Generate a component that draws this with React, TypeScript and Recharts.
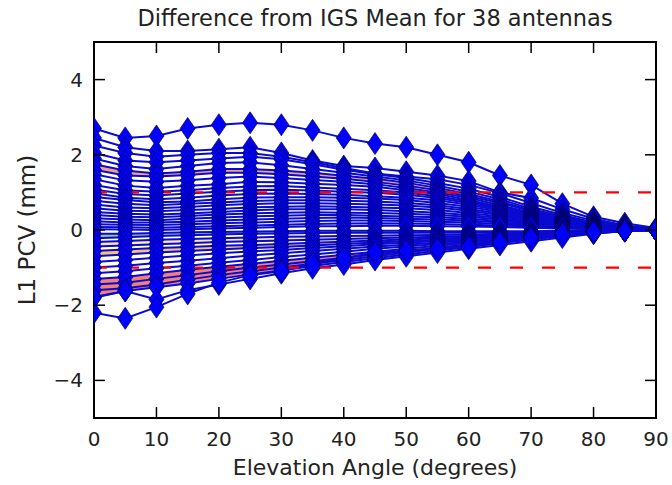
import React from "react";
import {
  ComposedChart,
  Line,
  Area,
  XAxis,
  YAxis,
  ReferenceLine,
  ReferenceArea,
} from "recharts";

// elevation angles (degrees) sampled every 5 deg
const elevation = [0, 5, 10, 15, 20, 25, 30, 35, 40, 45, 50, 55, 60, 65, 70, 75, 80, 85, 90];

const xTicks = [0, 10, 20, 30, 40, 50, 60, 70, 80, 90];
const yTicks = [-4, -2, 0, 2, 4];
const limit = [-1, 1];

// L1 PCV difference from IGS mean (mm), one array per antenna
const ant01 = [2.7, 2.45, 2.5, 2.7, 2.8, 2.85, 2.8, 2.65, 2.45, 2.3, 2.2, 2.0, 1.8, 1.45, 1.2, 0.7, 0.35, 0.18, 0.05];
const ant02 = [2.45, 2.2, 2.1, 2.1, 2.15, 2.2, 2.05, 1.85, 1.7, 1.65, 1.55, 1.45, 1.3, 1.0, 0.85, 0.55, 0.3, 0.12, 0.03];
const ant03 = [2.25, 2.05, 1.95, 2.0, 2.05, 2.05, 1.95, 1.8, 1.65, 1.5, 1.42, 1.35, 1.2, 0.98, 0.72, 0.45, 0.25, 0.1, 0.02];
const ant04 = [2.05, 1.85, 1.8, 1.85, 1.9, 1.95, 1.88, 1.75, 1.6, 1.48, 1.38, 1.25, 1.1, 0.88, 0.62, 0.4, 0.2, 0.08, 0.02];
const ant05 = [1.9, 1.7, 1.62, 1.7, 1.78, 1.8, 1.72, 1.62, 1.52, 1.42, 1.32, 1.18, 1.02, 0.82, 0.56, 0.36, 0.18, 0.08, 0.01];
const ant06 = [1.75, 1.58, 1.5, 1.55, 1.62, 1.62, 1.58, 1.52, 1.44, 1.36, 1.26, 1.12, 0.96, 0.76, 0.52, 0.32, 0.16, 0.06, 0.01];
const ant07 = [1.6, 1.45, 1.42, 1.46, 1.52, 1.52, 1.48, 1.42, 1.36, 1.28, 1.18, 1.06, 0.9, 0.72, 0.5, 0.3, 0.15, 0.05, 0];
const ant08 = [1.48, 1.32, 1.28, 1.32, 1.38, 1.42, 1.38, 1.33, 1.28, 1.22, 1.12, 1.0, 0.86, 0.66, 0.46, 0.28, 0.14, 0.05, 0];
const ant09 = [1.35, 1.18, 1.12, 1.18, 1.22, 1.28, 1.27, 1.23, 1.2, 1.15, 1.06, 0.96, 0.8, 0.62, 0.43, 0.25, 0.12, 0.04, 0];
const ant10 = [1.2, 1.06, 1.02, 1.06, 1.12, 1.16, 1.17, 1.13, 1.1, 1.06, 1.0, 0.9, 0.76, 0.58, 0.4, 0.24, 0.12, 0.04, 0];
const ant11 = [1.08, 0.96, 0.92, 0.97, 1.02, 1.06, 1.07, 1.05, 1.02, 0.99, 0.94, 0.85, 0.72, 0.55, 0.38, 0.22, 0.1, 0.04, 0];
const ant12 = [0.98, 0.86, 0.82, 0.86, 0.92, 0.96, 0.97, 0.96, 0.94, 0.9, 0.86, 0.79, 0.67, 0.52, 0.35, 0.2, 0.1, 0.03, 0];
const ant13 = [0.88, 0.8, 0.74, 0.76, 0.82, 0.86, 0.87, 0.87, 0.86, 0.84, 0.8, 0.72, 0.62, 0.48, 0.32, 0.18, 0.09, 0.03, 0];
const ant14 = [0.78, 0.7, 0.66, 0.7, 0.73, 0.77, 0.79, 0.79, 0.78, 0.76, 0.72, 0.66, 0.56, 0.44, 0.3, 0.17, 0.08, 0.03, 0];
const ant15 = [0.68, 0.6, 0.58, 0.61, 0.66, 0.69, 0.71, 0.71, 0.7, 0.68, 0.65, 0.6, 0.51, 0.4, 0.28, 0.16, 0.08, 0.02, 0];
const ant16 = [0.58, 0.51, 0.5, 0.53, 0.56, 0.6, 0.62, 0.63, 0.62, 0.6, 0.58, 0.53, 0.45, 0.36, 0.25, 0.14, 0.07, 0.02, 0];
const ant17 = [0.48, 0.43, 0.41, 0.44, 0.48, 0.52, 0.55, 0.55, 0.55, 0.53, 0.5, 0.46, 0.4, 0.32, 0.22, 0.13, 0.06, 0.02, 0];
const ant18 = [0.4, 0.35, 0.34, 0.37, 0.41, 0.44, 0.46, 0.47, 0.46, 0.45, 0.43, 0.4, 0.35, 0.28, 0.2, 0.12, 0.06, 0.02, 0];
const ant19 = [0.31, 0.28, 0.26, 0.3, 0.33, 0.36, 0.38, 0.4, 0.4, 0.38, 0.36, 0.34, 0.3, 0.24, 0.18, 0.1, 0.05, 0.02, 0];
const ant20 = [0.23, 0.2, 0.2, 0.22, 0.25, 0.28, 0.3, 0.32, 0.33, 0.32, 0.3, 0.28, 0.25, 0.2, 0.15, 0.09, 0.04, 0.01, 0];
const ant21 = [0.15, 0.14, 0.13, 0.15, 0.18, 0.2, 0.22, 0.24, 0.25, 0.25, 0.24, 0.22, 0.2, 0.16, 0.12, 0.07, 0.04, 0.01, 0];
const ant22 = [0.08, 0.07, 0.06, 0.08, 0.1, 0.12, 0.14, 0.16, 0.17, 0.18, 0.17, 0.16, 0.14, 0.12, 0.09, 0.05, 0.03, 0.01, 0];
const ant23 = [0.02, 0.01, 0.0, 0.02, 0.04, 0.06, 0.08, 0.1, 0.1, 0.11, 0.11, 0.1, 0.09, 0.08, 0.06, 0.04, 0.02, 0.0, 0];
const ant24 = [-0.1, -0.1, -0.08, -0.06, -0.05, -0.04, -0.03, -0.02, -0.02, -0.02, -0.02, -0.03, -0.03, -0.03, -0.03, -0.02, -0.01, 0, 0];
const ant25 = [-0.22, -0.19, -0.16, -0.14, -0.12, -0.1, -0.09, -0.08, -0.07, -0.07, -0.07, -0.07, -0.07, -0.06, -0.05, -0.03, -0.02, -0.01, 0];
const ant26 = [-0.32, -0.29, -0.26, -0.24, -0.22, -0.2, -0.18, -0.17, -0.16, -0.15, -0.14, -0.13, -0.12, -0.1, -0.08, -0.05, -0.03, -0.01, 0];
const ant27 = [-0.44, -0.41, -0.38, -0.35, -0.32, -0.3, -0.28, -0.26, -0.24, -0.22, -0.2, -0.18, -0.16, -0.13, -0.1, -0.07, -0.04, -0.01, 0];
const ant28 = [-0.56, -0.52, -0.48, -0.45, -0.42, -0.4, -0.37, -0.34, -0.31, -0.28, -0.25, -0.22, -0.19, -0.16, -0.12, -0.08, -0.04, -0.02, 0];
const ant29 = [-0.7, -0.65, -0.6, -0.56, -0.52, -0.48, -0.45, -0.41, -0.37, -0.33, -0.3, -0.26, -0.22, -0.18, -0.14, -0.09, -0.05, -0.02, 0];
const ant30 = [-0.85, -0.8, -0.74, -0.68, -0.62, -0.57, -0.53, -0.48, -0.43, -0.38, -0.34, -0.29, -0.25, -0.2, -0.15, -0.1, -0.05, -0.02, 0];
const ant31 = [-1.0, -0.95, -0.88, -0.82, -0.75, -0.68, -0.62, -0.56, -0.5, -0.44, -0.39, -0.33, -0.28, -0.22, -0.16, -0.11, -0.06, -0.02, 0];
const ant32 = [-1.15, -1.1, -1.02, -0.95, -0.87, -0.8, -0.72, -0.65, -0.58, -0.5, -0.44, -0.37, -0.31, -0.24, -0.18, -0.12, -0.06, -0.02, 0];
const ant33 = [-1.3, -1.25, -1.15, -1.06, -0.98, -0.9, -0.82, -0.74, -0.66, -0.58, -0.5, -0.42, -0.34, -0.27, -0.2, -0.13, -0.07, -0.02, 0];
const ant34 = [-1.45, -1.4, -1.3, -1.2, -1.1, -1.0, -0.92, -0.83, -0.74, -0.65, -0.56, -0.47, -0.38, -0.3, -0.22, -0.14, -0.07, -0.02, 0];
const ant35 = [-1.6, -1.55, -1.45, -1.32, -1.2, -1.1, -1.0, -0.9, -0.8, -0.7, -0.6, -0.5, -0.41, -0.32, -0.23, -0.15, -0.08, -0.03, 0];
const ant36 = [-1.78, -1.62, -1.52, -1.42, -1.3, -1.18, -1.08, -0.96, -0.85, -0.75, -0.65, -0.55, -0.45, -0.35, -0.25, -0.16, -0.08, -0.03, 0];
const ant37 = [-1.8, -1.62, -1.85, -1.6, -1.45, -1.3, -1.15, -1.02, -0.92, -0.8, -0.7, -0.6, -0.5, -0.4, -0.3, -0.2, -0.1, -0.03, 0];
const ant38 = [-2.2, -2.35, -2.05, -1.7, -1.4, -1.2, -1.1, -0.9, -0.75, -0.6, -0.55, -0.5, -0.45, -0.32, -0.2, -0.1, -0.05, -0.02, 0];

const antennas = [
  ant01, ant02, ant03, ant04, ant05, ant06, ant07, ant08, ant09, ant10,
  ant11, ant12, ant13, ant14, ant15, ant16, ant17, ant18, ant19, ant20,
  ant21, ant22, ant23, ant24, ant25, ant26, ant27, ant28, ant29, ant30,
  ant31, ant32, ant33, ant34, ant35, ant36, ant37, ant38,
];

// shaded spreads between pairs of antennas (index pairs into antennas)
const bands: { lo: number; hi: number; color: string }[] = [
  { lo: 6, hi: 5, color: "#f4a080" },
  { lo: 35, hi: 32, color: "#f08078" },
  { lo: 28, hi: 27, color: "#f6c078" },
  { lo: 26, hi: 25, color: "#fae4a8" },
  { lo: 24, hi: 23, color: "#90c890" },
];

const W = 672;
const H = 485;
const PLOT_TOP = 42;
const PLOT_LEFT = 94;
const PLOT_RIGHT = 656;
const PLOT_BOTTOM = 418;
const FONT = "'DejaVu Sans', sans-serif";

const data = elevation.map((e, i) => {
  const row: Record<string, number> = { elev: e };
  antennas.forEach((a, k) => {
    row[`a${k}`] = a[i];
  });
  return row;
});

function Diamond(props: any) {
  const { cx, cy } = props;
  if (cx == null || cy == null) return <g />;
  return (
    <path
      d={`M${cx},${cy - 11}L${cx + 7.5},${cy}L${cx},${cy + 11}L${cx - 7.5},${cy}Z`}
      fill="#0000ff"
      stroke="#000050"
      strokeWidth={0.7}
    />
  );
}

function XTick(props: any) {
  const { x, payload } = props;
  return (
    <g>
      <line x1={x} x2={x} y1={PLOT_BOTTOM} y2={PLOT_BOTTOM - 11} stroke="#000" strokeWidth={1.5} />
      <line x1={x} x2={x} y1={PLOT_TOP} y2={PLOT_TOP + 11} stroke="#000" strokeWidth={1.5} />
      <text x={x} y={446} textAnchor="middle" fontSize={20} fill="#222" fontFamily={FONT}>
        {payload.value}
      </text>
    </g>
  );
}

function YTick(props: any) {
  const { y, payload } = props;
  const v = payload.value;
  return (
    <g>
      <line x1={PLOT_LEFT} x2={PLOT_LEFT + 11} y1={y} y2={y} stroke="#000" strokeWidth={1.5} />
      <line x1={PLOT_RIGHT} x2={PLOT_RIGHT - 11} y1={y} y2={y} stroke="#000" strokeWidth={1.5} />
      <text x={83} y={y + 7} textAnchor="end" fontSize={20} fill="#222" fontFamily={FONT}>
        {v < 0 ? `\u2212${-v}` : `${v}`}
      </text>
    </g>
  );
}

export default function App() {
  return (
    <div style={{ position: "absolute", left: 0, top: 0, width: W, height: H, background: "#fff", fontFamily: FONT }}>
      <div
        style={{
          position: "absolute",
          left: 0,
          top: 5,
          width: (PLOT_LEFT + PLOT_RIGHT),
          textAlign: "center",
          fontSize: 22.5,
          lineHeight: "26px",
          color: "#222",
          whiteSpace: "nowrap",
        }}
      >
        Difference from IGS Mean for 38 antennas
      </div>
      <div
        style={{
          position: "absolute",
          left: 0,
          top: 455,
          width: (PLOT_LEFT + PLOT_RIGHT),
          textAlign: "center",
          fontSize: 22,
          lineHeight: "26px",
          color: "#222",
          whiteSpace: "nowrap",
        }}
      >
        Elevation Angle (degrees)
      </div>
      <div
        style={{
          position: "absolute",
          left: 27 - 100,
          top: 230 - 13,
          width: 200,
          textAlign: "center",
          fontSize: 23,
          lineHeight: "26px",
          color: "#222",
          whiteSpace: "nowrap",
          transform: "rotate(-90deg)",
        }}
      >
        L1 PCV (mm)
      </div>
      <ComposedChart
        width={W}
        height={H}
        data={data}
        margin={{ top: PLOT_TOP, right: W - PLOT_RIGHT, bottom: 0, left: 0 }}
      >
        <XAxis
          dataKey="elev"
          type="number"
          domain={[0, 90]}
          ticks={xTicks}
          allowDataOverflow
          height={H - PLOT_BOTTOM}
          axisLine={false}
          tickLine={false}
          tick={XTick}
        />
        <YAxis
          type="number"
          domain={[-5, 5]}
          ticks={yTicks}
          allowDataOverflow
          width={PLOT_LEFT}
          axisLine={false}
          tickLine={false}
          tick={YTick}
        />
        {bands.map((b, k) => (
          <Area
            key={`band-${k}`}
            dataKey={(d: any) => [d[`a${b.lo}`], d[`a${b.hi}`]]}
            stroke="none"
            fill={b.color}
            fillOpacity={1}
            isAnimationActive={false}
            activeDot={false}
          />
        ))}
        {antennas.map((_, k) => (
          <Line
            key={`ant-${k}`}
            dataKey={`a${k}`}
            stroke="#0a0ad0"
            strokeWidth={2}
            dot={Diamond}
            activeDot={false}
            isAnimationActive={false}
          />
        ))}
        {limit.map((v) => (
          <ReferenceLine key={`lim-${v}`} y={v} stroke="#ff0000" strokeWidth={2.2} strokeDasharray="13 19" />
        ))}
        <ReferenceArea x1={0} x2={90} y1={-5} y2={5} fill="none" stroke="#000" strokeWidth={2} />
      </ComposedChart>
    </div>
  );
}
